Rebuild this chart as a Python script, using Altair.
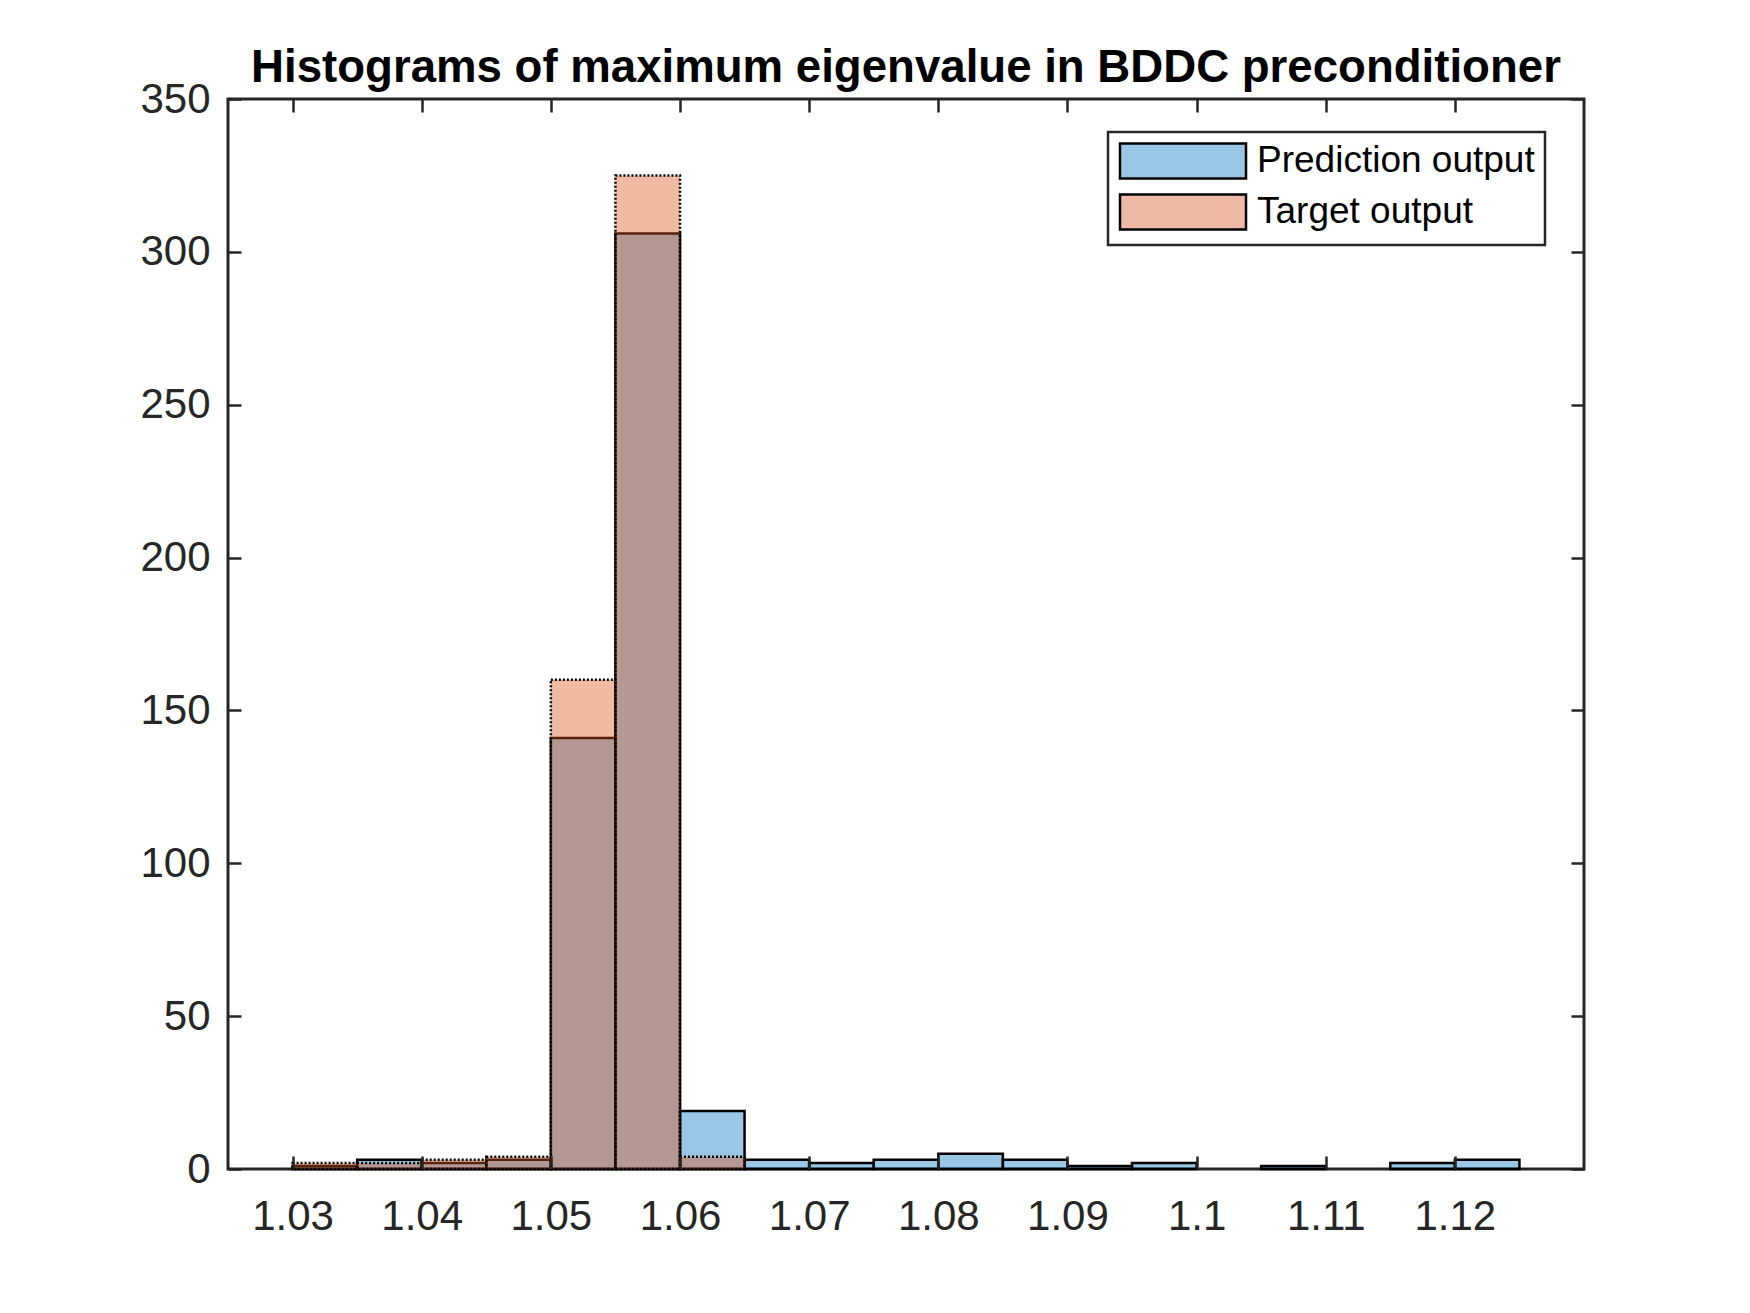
import altair as alt
import pandas as pd

# ---- data ----
bin_lo = [1.030, 1.035, 1.040, 1.045, 1.050, 1.055, 1.060, 1.065, 1.070, 1.075,
          1.080, 1.085, 1.090, 1.095, 1.100, 1.105, 1.110, 1.115, 1.120]
bin_hi = [1.035, 1.040, 1.045, 1.050, 1.055, 1.060, 1.065, 1.070, 1.075, 1.080,
          1.085, 1.090, 1.095, 1.100, 1.105, 1.110, 1.115, 1.120, 1.125]
pred_counts = [1, 3, 2, 3, 141, 306, 19, 3, 2, 3, 5, 3, 1, 2, 0, 1, 0, 2, 3]
target_counts = [2, 2, 3, 4, 160, 325, 4, 0, 0, 0, 0, 0, 0, 0, 0, 0, 0, 0, 0]
series_names = ["Prediction output", "Target output"]
x_ticks = [1.03, 1.04, 1.05, 1.06, 1.07, 1.08, 1.09, 1.10, 1.11, 1.12]
y_ticks = [0, 50, 100, 150, 200, 250, 300, 350]
x_domain = [1.025, 1.13]
y_domain = [0, 350]
title_text = "Histograms of maximum eigenvalue in BDDC preconditioner"

pred_df = pd.DataFrame({"lo": bin_lo, "hi": bin_hi, "n": pred_counts,
                        "series": series_names[0]})
tgt_df = pd.DataFrame({"lo": bin_lo, "hi": bin_hi, "n": target_counts,
                       "series": series_names[1]})
pred_df = pred_df[pred_df["n"] > 0]
tgt_df = tgt_df[tgt_df["n"] > 0]
legend_df = pred_df.iloc[0:0]  # no rows: only carries the legend and tick axes

W, H = 1356, 1070
FONT = "Liberation Sans"
AX = "#262626"
TL = 13
BLUE, ORANGE = "#0072BD", "#D95319"
ALPHA = 0.4

xscale = alt.Scale(domain=x_domain, nice=False, zero=False)
yscale = alt.Scale(domain=y_domain, nice=False)

def tick_axis(orient, offset, values):
    return alt.Axis(orient=orient, offset=offset, values=values, labels=False,
                    ticks=True, tickSize=TL, tickWidth=2.5, tickColor=AX,
                    domain=False, grid=False, title=None, zindex=1)

x_lab = alt.Axis(orient="bottom", values=x_ticks, format=".3~f", labelFontSize=42,
                 labelFont=FONT, labelColor=AX, labelPadding=27, ticks=False,
                 tickSize=0, domain=False, grid=False, title=None)
y_lab = alt.Axis(orient="left", values=y_ticks, labelFontSize=42, labelFont=FONT,
                 labelColor=AX, labelPadding=18, ticks=False, tickSize=0,
                 domain=False, grid=False, title=None)

pred = alt.Chart(pred_df).mark_rect(
    fill=BLUE, fillOpacity=ALPHA, stroke="black", strokeWidth=2.5
).encode(
    x=alt.X("lo:Q", scale=xscale, axis=x_lab),
    x2="hi:Q",
    y=alt.Y("n:Q", scale=yscale, axis=y_lab, stack=None),
    y2=alt.datum(0),
)

tgt = alt.Chart(tgt_df).mark_rect(
    fill=ORANGE, fillOpacity=ALPHA, stroke="black", strokeWidth=2.5, strokeDash=[2, 2]
).encode(
    x=alt.X("lo:Q", scale=xscale, axis=tick_axis("top", -H, x_ticks)),
    x2="hi:Q",
    y=alt.Y("n:Q", scale=yscale, axis=tick_axis("right", -W, y_ticks), stack=None),
    y2=alt.datum(0),
)

# legend swatches show the colours as they look at the bars' alpha over white
legend_fill = ["#99C7E5", "#EFBAA3"]
leg = alt.Legend(title=None, symbolStrokeColor="black", symbolStrokeWidth=2.5)
ghost = alt.Chart(legend_df).mark_rect(stroke="black", strokeWidth=2.5).encode(
    x=alt.X("lo:Q", scale=xscale, axis=tick_axis("bottom", -H, x_ticks)),
    x2="hi:Q",
    y=alt.Y("n:Q", scale=yscale, axis=tick_axis("left", -W, y_ticks), stack=None),
    y2=alt.datum(0),
    color=alt.Color("series:N", scale=alt.Scale(domain=series_names, range=legend_fill),
                    legend=leg),
    strokeDash=alt.StrokeDash("series:N", scale=alt.Scale(domain=series_names,
                                                          range=[[1, 0], [2, 2]]),
                              legend=leg),
)

chart = alt.layer(pred, tgt, ghost).resolve_scale(
    x="shared", y="shared"
).resolve_axis(
    x="independent", y="independent"
).properties(
    width=W, height=H,
    autosize=alt.AutoSizeParams(type="none"),
    padding={"left": 220, "top": 91, "right": 100, "bottom": 100},
    title=alt.TitleParams(title_text, fontSize=45.6, font=FONT, fontWeight="bold",
                          color="black", anchor="middle", frame="group",
                          baseline="alphabetic", offset=-50),
).configure(font=FONT).configure_view(
    stroke=AX, strokeWidth=3
).configure_legend(
    orient="none", legendX=880, legendY=33, padding=10,
    strokeColor=AX, strokeWidth=2.5, fillColor="white", cornerRadius=0,
    labelFontSize=37, labelColor="black", labelFont=FONT, labelLimit=0,
    symbolType="M-3.6,-1L3.6,-1L3.6,1L-3.6,1Z", symbolSize=1225,
    symbolStrokeColor="black", symbolStrokeWidth=2.5,
    rowPadding=5, labelOffset=55, symbolOffset=46,
)

chart.save("out.html", embed_options={"renderer": "svg", "actions": False})
